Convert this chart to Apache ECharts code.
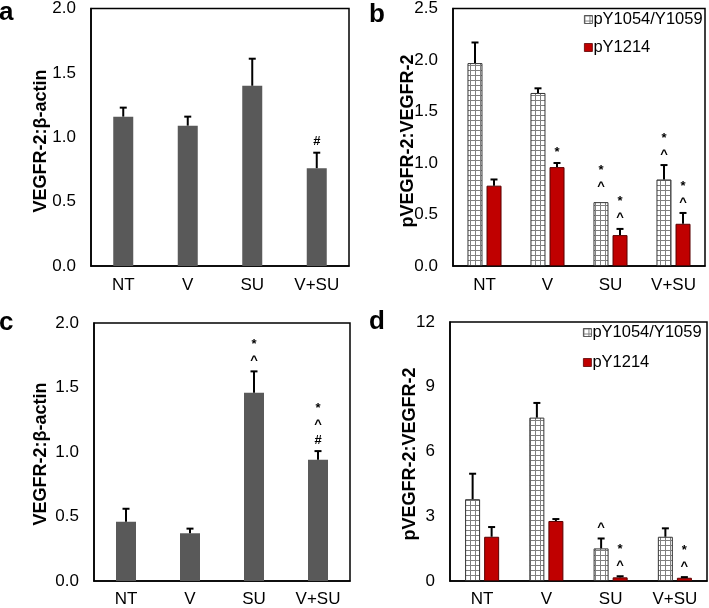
<!DOCTYPE html>
<html><head><meta charset="utf-8">
<script src="https://cdn.jsdelivr.net/npm/echarts@6/dist/echarts.min.js"></script>
<style>html,body{margin:0;padding:0;background:#fff}#c{width:709px;height:608px}</style>
</head><body><div id="c"></div>
<script>
// ---- data ----
var categories = ['NT', 'V', 'SU', 'V+SU'];
// panel a: VEGFR-2:beta-actin
var aMean = [1.16, 1.09, 1.40, 0.76];
var aErr  = [0.07, 0.07, 0.21, 0.12];
var aMarks = ['', '', '', '#'];
// panel b: pVEGFR-2:VEGFR-2
var bY1054 = [1.97, 1.68, 0.62, 0.84];
var bY1054Err = [0.20, 0.045, 0, 0.14];
var bY1054Marks = ['', '', '*\n^', '*\n^'];
var bY1214 = [0.78, 0.96, 0.30, 0.41];
var bY1214Err = [0.06, 0.04, 0.06, 0.105];
var bY1214Marks = ['', '*', '*\n^', '*\n^'];
// panel c: VEGFR-2:beta-actin
var cMean = [0.46, 0.37, 1.46, 0.94];
var cErr  = [0.10, 0.036, 0.165, 0.067];
var cMarks = ['', '', '*\n^', '*\n^\n#'];
// panel d: pVEGFR-2:VEGFR-2
var dY1054 = [3.79, 7.57, 1.51, 2.05];
var dY1054Err = [1.18, 0.68, 0.46, 0.39];
var dY1054Marks = ['', '', '^', ''];
var dY1214 = [2.05, 2.78, 0.17, 0.15];
var dY1214Err = [0.45, 0.09, 0.05, 0.03];
var dY1214Marks = ['', '', '*\n^', '*\n^'];
var aTicks = {min: 0, max: 2, interval: 0.5};
var bTicks = {min: 0, max: 2.5, interval: 0.5};
var cTicks = {min: 0, max: 2, interval: 0.5};
var dTicks = {min: 0, max: 12, interval: 3};
var legendNames = ['pY1054/Y1059', 'pY1214'];

// ---- styling ----
var FONT = "'Liberation Sans', Arial, sans-serif";
var GRAY = '#595959', RED = '#C00000';
function makePattern() {
  var cv = document.createElement('canvas');
  cv.width = 5; cv.height = 5;
  var ctx = cv.getContext('2d');
  ctx.fillStyle = '#ffffff'; ctx.fillRect(0, 0, 5, 5);
  ctx.fillStyle = '#808080';
  ctx.fillRect(0, 0, 5, 1);
  ctx.fillRect(0, 0, 1, 5);
  return {image: cv, repeat: 'repeat'};
}
var PATTERN = makePattern();

var chart = echarts.init(document.getElementById('c'), null, {renderer: 'canvas'});

var grids = [
  {left: 91, top: 7, width: 258, height: 259},
  {left: 453, top: 6.5, width: 252, height: 259.5},
  {left: 94, top: 323, width: 256, height: 259},
  {left: 450, top: 322, width: 257, height: 260}
];
grids.forEach(function (g) { g.show = true; g.borderColor = '#000'; g.borderWidth = 1.5; g.backgroundColor = 'transparent'; g.containLabel = false; });

var xMargins = [11, 11, 10, 10];
var xAxes = grids.map(function (g, i) {
  return {
    type: 'category', gridIndex: i, data: categories,
    axisLine: {lineStyle: {color: '#000', width: 1.5}},
    axisTick: {show: false},
    axisLabel: {color: '#000', fontSize: 17, fontFamily: FONT, margin: xMargins[i]}
  };
});
var ticks = [aTicks, bTicks, cTicks, dTicks];
var yAxes = ticks.map(function (t, i) {
  return {
    type: 'value', gridIndex: i, min: t.min, max: t.max, interval: t.interval,
    axisLine: {show: true, lineStyle: {color: '#000', width: 1.5}},
    axisTick: {show: false},
    splitLine: {show: false},
    axisLabel: {color: '#000', fontSize: 17, fontFamily: FONT, margin: 15,
      formatter: i === 3 ? function (v) { return String(v); } : function (v) { return v.toFixed(1); }}
  };
});

function errSeries(axis, means, errs, marks, offset) {
  return {
    type: 'custom', xAxisIndex: axis, yAxisIndex: axis, silent: true, z: 5,
    data: means.map(function (m, i) { return [i, m, errs[i]]; }),
    renderItem: function (params, api) {
      var i = api.value(0), v = api.value(1), e = api.value(2);
      var p0 = api.coord([i, v]);
      var p1 = api.coord([i, v + e]);
      var x = p0[0] + offset;
      var children = [];
      if (e > 0) {
        children.push({type: 'line', shape: {x1: x, y1: p0[1], x2: x, y2: p1[1]}, style: {stroke: '#000', lineWidth: 2}});
        children.push({type: 'line', shape: {x1: x - 3.5, y1: p1[1], x2: x + 3.5, y2: p1[1]}, style: {stroke: '#000', lineWidth: 2}});
      }
      var mk = marks[params.dataIndex];
      if (mk) {
        children.push({type: 'text', x: x, y: p1[1] - (e > 0 ? 3 : 8),
          style: {text: mk, align: 'center', verticalAlign: 'bottom', fill: '#000',
            font: 'bold 13px ' + FONT, lineHeight: 16}});
      }
      return {type: 'group', children: children};
    }
  };
}

var series = [
  {type: 'bar', name: 'a', xAxisIndex: 0, yAxisIndex: 0, data: aMean, barWidth: 20,
    itemStyle: {color: GRAY}},
  errSeries(0, aMean, aErr, aMarks, 0),
  {type: 'bar', name: legendNames[0], xAxisIndex: 1, yAxisIndex: 1, data: bY1054, barWidth: 15, barGap: '27%',
    itemStyle: {color: PATTERN, borderColor: '#333', borderWidth: 1}},
  {type: 'bar', name: legendNames[1], xAxisIndex: 1, yAxisIndex: 1, data: bY1214, barWidth: 15, barGap: '27%',
    itemStyle: {color: RED, borderColor: '#5a0000', borderWidth: 1}},
  errSeries(1, bY1054, bY1054Err, bY1054Marks, -9.5),
  errSeries(1, bY1214, bY1214Err, bY1214Marks, 9.5),
  {type: 'bar', name: 'c', xAxisIndex: 2, yAxisIndex: 2, data: cMean, barWidth: 20,
    itemStyle: {color: GRAY}},
  errSeries(2, cMean, cErr, cMarks, 0),
  {type: 'bar', name: legendNames[0], xAxisIndex: 3, yAxisIndex: 3, data: dY1054, barWidth: 15, barGap: '27%',
    itemStyle: {color: PATTERN, borderColor: '#333', borderWidth: 1}},
  {type: 'bar', name: legendNames[1], xAxisIndex: 3, yAxisIndex: 3, data: dY1214, barWidth: 15, barGap: '27%',
    itemStyle: {color: RED, borderColor: '#5a0000', borderWidth: 1}},
  errSeries(3, dY1054, dY1054Err, dY1054Marks, -9.5),
  errSeries(3, dY1214, dY1214Err, dY1214Marks, 9.5)
];

function legend(left, top, gap) {
  return {
    data: legendNames.map(function (n) { return {name: n, icon: 'rect'}; }),
    orient: 'vertical', left: left, top: top, itemGap: gap,
    itemWidth: 8, itemHeight: 8, selectedMode: false, padding: 0,
    itemStyle: {borderWidth: 0.8},
    textStyle: {color: '#000', fontSize: 16.5, fontFamily: FONT, padding: [0, 0, 0, -4]}
  };
}

function yTitle(text, x, y) {
  return {type: 'text', x: x, y: y, rotation: Math.PI / 2,
    style: {text: text, align: 'center', verticalAlign: 'middle', fill: '#000', font: 'bold 18px ' + FONT}};
}
function letter(text, x, y) {
  return {type: 'text', x: x, y: y,
    style: {text: text, align: 'left', verticalAlign: 'middle', fill: '#000', font: 'bold 26px ' + FONT}};
}

chart.setOption({
  animation: false,
  backgroundColor: '#fff',
  grid: grids, xAxis: xAxes, yAxis: yAxes, series: series,
  legend: [legend(584, 11, 11), legend(583, 324, 13)],
  graphic: [
    yTitle('VEGFR-2:\u03b2-actin', 41.5, 141),
    yTitle('pVEGFR-2:VEGFR-2', 408, 141),
    yTitle('VEGFR-2:\u03b2-actin', 41.5, 454),
    yTitle('pVEGFR-2:VEGFR-2', 410, 454),
    letter('a', -1, 13),
    letter('b', 369, 15),
    letter('c', -1, 323),
    letter('d', 369, 322)
  ]
});
</script></body></html>
